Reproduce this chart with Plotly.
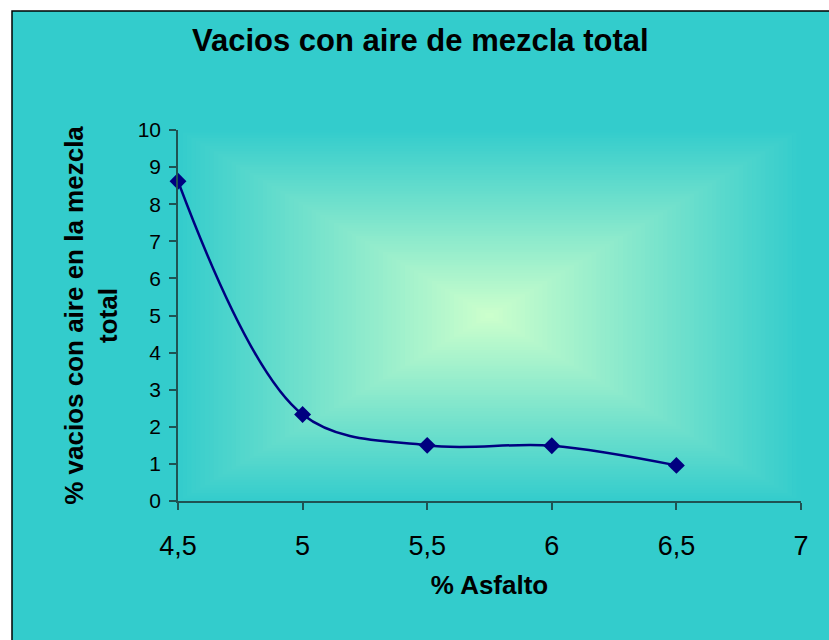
import plotly.graph_objects as go

# Asphalt content (%) and total-mix air voids (%)
asfalto = [4.5, 5.0, 5.5, 6.0, 6.5]
vacios = [8.62, 2.33, 1.50, 1.49, 0.96]

x_ticks = [4.5, 5.0, 5.5, 6.0, 6.5, 7.0]
x_tick_text = ["4,5", "5", "5,5", "6", "6,5", "7"]
y_ticks = list(range(0, 11))

TEAL = (51, 204, 204)
MINT = (204, 255, 204)
FONT = "Liberation Sans, Arial, sans-serif"

W, H = 829, 640
L, R, T, B = 178, 28, 130, 139
plot_w = W - L - R
plot_h = H - T - B

fig = go.Figure()

fig.add_trace(go.Scatter(
    x=asfalto, y=vacios,
    mode="lines+markers",
    line=dict(color="#000080", width=2.5, shape="spline", smoothing=1.0),
    marker=dict(symbol="diamond", size=13, color="#000080"),
    showlegend=False,
    cliponaxis=False,
))

shapes = []
# Chart area: teal panel with a black frame
shapes.append(dict(
    type="rect", xref="paper", yref="paper", layer="below",
    x0=(12 - L) / plot_w, x1=3.0,
    y0=-2.0, y1=1 + (T - 11) / plot_h,
    fillcolor="rgb(51,204,204)", line=dict(color="black", width=1.5),
))

# Plot area: rectangular "from centre" gradient, mint in the middle fading to teal
N = 70
for k in range(N, 0, -1):
    f = (k - 0.5) / N
    c = tuple(round(MINT[i] + (TEAL[i] - MINT[i]) * f) for i in range(3))
    h = 0.5 * k / N
    shapes.append(dict(
        type="rect", xref="x domain", yref="y domain", layer="below",
        x0=0.5 - h, x1=0.5 + h, y0=0.5 - h, y1=0.5 + h,
        fillcolor="rgb(%d,%d,%d)" % c, line=dict(width=0),
    ))

axis_line = "#1f5252"

fig.update_layout(
    width=W, height=H,
    margin=dict(l=L, r=R, t=T, b=B),
    paper_bgcolor="white",
    plot_bgcolor="rgba(0,0,0,0)",
    shapes=shapes,
    title=dict(
        text="<b>Vacios con aire de mezcla total</b>",
        font=dict(family=FONT, size=31, color="black"),
        x=0.507, xref="container", xanchor="center",
        y=1 - 40 / H, yref="container", yanchor="middle",
    ),
    xaxis=dict(
        range=[4.5, 7.0],
        tickmode="array", tickvals=x_ticks, ticktext=x_tick_text,
        ticks="outside", ticklen=7, tickwidth=1.5, tickcolor=axis_line,
        showline=True, linecolor=axis_line, linewidth=1.5,
        showgrid=False, zeroline=False,
        tickfont=dict(family=FONT, size=27, color="black"),
        ticklabelstandoff=13,
        title=dict(text="<b>% Asfalto</b>",
                   font=dict(family=FONT, size=26, color="black"),
                   standoff=16),
    ),
    yaxis=dict(
        range=[0, 10],
        tickmode="array", tickvals=y_ticks,
        ticks="outside", ticklen=7, tickwidth=1.5, tickcolor=axis_line,
        showline=True, linecolor=axis_line, linewidth=1.5,
        showgrid=False, zeroline=False,
        tickfont=dict(family=FONT, size=21, color="black"),
        ticklabelstandoff=4,
        title=dict(text="<b>% vacios con aire en la mezcla<br>total</b>",
                   font=dict(family=FONT, size=26, color="black"),
                   standoff=13),
    ),
)

fig.write_html("out.html")
